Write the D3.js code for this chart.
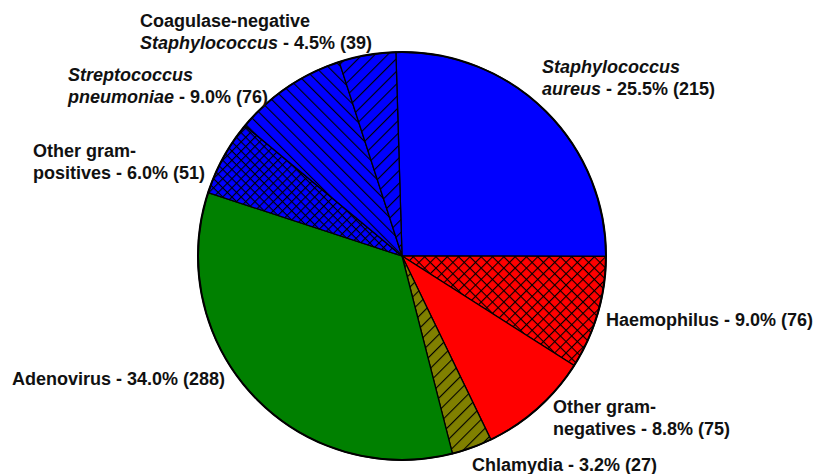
<!DOCTYPE html>
<html>
<head>
<meta charset="utf-8">
<script src="https://cdn.jsdelivr.net/npm/d3@7"></script>
<style>
  body { margin: 0; background: #fff; }
  text { font-family: "Liberation Sans", Arial, sans-serif; font-weight: bold; font-size: 18px; fill: #111; }
</style>
</head>
<body>
<svg id="chart" width="815" height="474"></svg>
<script>
// Pathogen shares (clockwise from 12 o'clock)
const categories = ["Staphylococcus aureus", "Haemophilus", "Other gram-negatives", "Chlamydia",
  "Adenovirus", "Other gram-positives", "Streptococcus pneumoniae", "Coagulase-negative Staphylococcus"];
const percents = [25.5, 9.0, 8.8, 3.2, 34.0, 6.0, 9.0, 4.5];
const counts = [215, 76, 75, 27, 288, 51, 76, 39];
const fills = ["#0000ff", "url(#crossRed)", "#ff0000", "url(#hatchOlive)",
  "#008000", "url(#crossBlue)", "url(#hatchBlueDown)", "url(#hatchBlueUp)"];

// label lines: [text, italic?] segments per line
const labelLines = [
  [[["Staphylococcus", true]], [["aureus", true], [" - 25.5% (215)", false]]],
  [[["Haemophilus - 9.0% (76)", false]]],
  [[["Other gram-", false]], [["negatives - 8.8% (75)", false]]],
  [[["Chlamydia - 3.2% (27)", false]]],
  [[["Adenovirus - 34.0% (288)", false]]],
  [[["Other gram-", false]], [["positives - 6.0% (51)", false]]],
  [[["Streptococcus", true]], [["pneumoniae", true], [" - 9.0% (76)", false]]],
  [[["Coagulase-negative", false]], [["Staphylococcus", true], [" - 4.5% (39)", false]]]
];
const labelAnchors = [[542, 73], [606, 326], [553, 413], [472, 471], [12, 385], [33, 157], [68, 81], [140, 27]];

const svg = d3.select("#chart");
const cx = 402, cy = 256, radius = 204;
const defs = svg.append("defs");

function crossPattern(id, bg, size) {
  const p = defs.append("pattern").attr("id", id).attr("patternUnits", "userSpaceOnUse")
    .attr("width", size).attr("height", size).attr("patternTransform", "rotate(45)");
  p.append("rect").attr("width", size).attr("height", size).attr("fill", bg);
  p.append("line").attr("x1", 0).attr("y1", 0).attr("x2", size).attr("y2", 0).attr("stroke", "#000").attr("stroke-width", 2.2);
  p.append("line").attr("x1", 0).attr("y1", 0).attr("x2", 0).attr("y2", size).attr("stroke", "#000").attr("stroke-width", 2.2);
}
function hatchPattern(id, bg, size, angle) {
  const p = defs.append("pattern").attr("id", id).attr("patternUnits", "userSpaceOnUse")
    .attr("width", size).attr("height", size).attr("patternTransform", `rotate(${angle})`);
  p.append("rect").attr("width", size).attr("height", size).attr("fill", bg);
  p.append("line").attr("x1", 0).attr("y1", 0).attr("x2", 0).attr("y2", size).attr("stroke", "#000").attr("stroke-width", 2.2);
}
crossPattern("crossRed", "#ff0000", 8);
crossPattern("crossBlue", "#0000ff", 6.5);
hatchPattern("hatchOlive", "#808000", 9, 45);
hatchPattern("hatchBlueDown", "#0000ff", 9, -45);
hatchPattern("hatchBlueUp", "#0000ff", 9, 45);

const pie = d3.pie().sort(null).startAngle(-0.03).endAngle(2 * Math.PI - 0.03);
const arc = d3.arc().innerRadius(0).outerRadius(radius);

const g = svg.append("g").attr("transform", `translate(${cx},${cy})`);
g.selectAll("path.slice")
  .data(pie(percents))
  .join("path")
  .attr("class", "slice")
  .attr("d", arc)
  .attr("fill", (d, i) => fills[i])
  .attr("stroke", "#000")
  .attr("stroke-width", 1.3);

g.append("circle").attr("r", radius).attr("fill", "none").attr("stroke", "#000").attr("stroke-width", 2);

// Labels
labelLines.forEach((lines, i) => {
  const [x, y] = labelAnchors[i];
  const t = svg.append("text").attr("x", x).attr("y", y);
  lines.forEach((segs, li) => {
    segs.forEach((s, si) => {
      const ts = t.append("tspan").text(s[0]).style("font-style", s[1] ? "italic" : "normal");
      if (si === 0) ts.attr("x", x).attr("dy", li === 0 ? 0 : 22);
    });
  });
});
</script>
</body>
</html>
